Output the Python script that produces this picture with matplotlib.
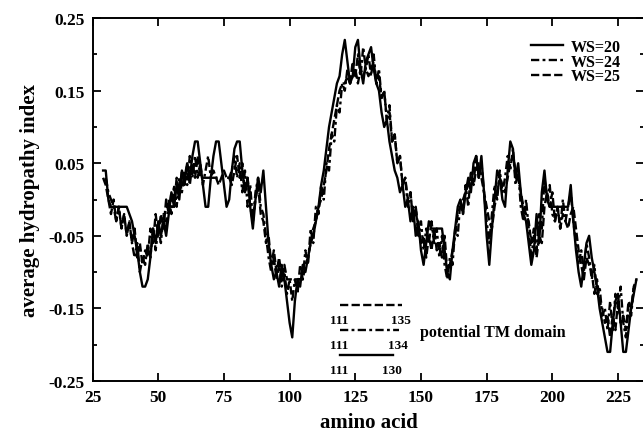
import numpy as np
import matplotlib
matplotlib.use('Agg')
import matplotlib.pyplot as plt

plt.rcParams['font.family'] = ['Liberation Serif', 'DejaVu Serif']
plt.rcParams['font.weight'] = 'bold'

# average hydropathy index (x 0.01), one value per residue
ws20_start = 29
ws20 = [4, 4, 0, -1, -1, -1, -1, -1, -1, -1, -2, -3,
        -5, -7, -10, -12, -12, -11, -8, -4, -6, -3,
        -5, -3, -5, -2, 1, -1, 2, 0, 4, 3,
        5, 3, 6, 8, 8, 5, 2, -1, -1, 3,
        6, 8, 8, 5, 2, -1, 0, 4, 7, 8,
        8, 4, 1, 3, -1, -4, 0, 3, 1, 4,
        -1, -6, -9, -11, -10, -12, -9, -11, -14, -17,
        -19, -14, -11, -12, -9, -10, -8, -6, -5, -3,
        -1, 2, 4, 7, 10, 12, 14, 16, 17, 20,
        22, 19, 16, 17, 21, 22, 18, 16, 19, 20,
        21, 18, 16, 15, 12, 10, 11, 8, 6, 4,
        3, 1, 2, -1, 0, -3, -1, -5, -3, -7,
        -9, -6, -3, -4, -4, -4, -4, -4, -7, -10,
        -11, -7, -4, -1, 0, -2, 1, 3, 1, 5,
        6, 3, 6, 1, -5, -9, -4, 0, 4, 3,
        0, -1, 4, 8, 7, 3, 5, 1, -2, -3,
        -6, -9, -7, -2, -6, 1, 4, 0, -1, -1,
        -1, -1, -1, -1, -1, -1, 2, -3, -7, -10,
        -12, -9, -6, -5, -8, -10, -12, -15, -17, -19,
        -21, -21, -17, -14, -13, -17, -21, -21, -18, -15, -13, -11]

ws24_start = 30
ws24 = [3, 1, 0, -1, -3, -1, -4, -2, -5, -3, -6,
        -8, -6, -10, -8, -9, -6, -8, -4, -7, -4,
        -6, -2, -4, 0, -2, 2, -1, 3, 1, 4,
        2, 6, 3, 6, 3, 5, 2, 4, 6, 3,
        3, 3, 3, 3, 3, 3, 3, 4, 6, 3,
        5, 1, 4, -1, 2, -3, 1, 3, -1, -2,
        -5, -8, -10, -8, -11, -9, -12, -10, -13, -11,
        -14, -11, -13, -9, -11, -7, -9, -4, -6, -1,
        -2, 2, 0, 5, 4, 9, 8, 13, 12, 16,
        15, 18, 16, 19, 17, 20, 17, 21, 18, 20,
        17, 20, 16, 18, 14, 15, 11, 13, 8, 9,
        5, 6, 2, 3, -1, 1, -3, -1, -5, -3,
        -7, -4, -6, -3, -6, -4, -8, -5, -9, -11,
        -8, -9, -4, -5, 0, -2, 2, -1, 4, 2,
        6, 3, 5, 1, -3, -6, -2, 2, 0, 4,
        1, 3, 6, 4, 7, 2, 4, -1, -3, 0,
        -4, -8, -5, -7, -2, -4, 3, 0, 2, -2,
        -3, -1, -4, 0, -3, -1, 1, -3, -6, -9,
        -7, -10, -6, -8, -11, -9, -13, -12, -16, -15,
        -18, -14, -18, -13, -15, -12, -17, -19, -15, -16, -12]

ws25_start = 29
ws25 = [3, 2, 0, -2, 0, -3, -1, -4, -2, -5, -3, -6,
        -4, -8, -6, -9, -7, -8, -4, -6, -2, -5,
        -2, -4, 0, -2, 1, -1, 3, 1, 4, 2,
        5, 2, 5, 3, 6, 3, 3, 3, 3, 3,
        4, 3, 2, 3, 4, 3, 3, 2, 4, 6,
        3, 5, 1, 3, -1, -3, 0, 2, -2, -3,
        -6, -5, -9, -7, -10, -8, -11, -9, -11, -11,
        -11, -11, -11, -11, -11, -9, -8, -6, -4, -3,
        -1, 0, 2, 4, 7, 9, 11, 13, 15, 16,
        16, 17, 16, 17, 18, 16, 18, 17, 18, 17,
        18, 19, 16, 17, 14, 15, 11, 12, 8, 9,
        5, 6, 2, 3, 0, 1, -3, -1, -4, -6,
        -5, -8, -5, -7, -4, -7, -6, -8, -5, -10,
        -9, -7, -5, -2, -1, 0, 1, 2, 3, 2,
        4, 5, 3, 1, -1, -3, -4, -1, 1, 3,
        2, 1, 3, 5, 6, 4, 3, 1, -1, -2,
        -3, -6, -4, -8, -5, -6, -1, 1, -1, 1,
        -3, -1, -4, -2, -3, -4, -2, -1, -4, -7,
        -9, -11, -8, -9, -10, -13, -11, -14, -15, -17,
        -16, -19, -16, -18, -14, -17, -16, -18, -14, -15, -12, -11]

x_ticks = [25, 50, 75, 100, 125, 150, 175, 200, 225]
y_ticks = [-0.25, -0.15, -0.05, 0.05, 0.15, 0.25]

# potential TM domain: (start, end, label start, label end)
tm_lines = [(119.2, 142.8, '111', '135'),
            (119.2, 141.7, '111', '134'),
            (119.2, 139.4, '111', '130')]
tm_y = [-0.1456, -0.180, -0.2147]

LW = 1.7
DASH = (3.5, 1.4)
DASHDOT = (3.5, 1.4, 1.2, 1.4)

fig = plt.figure(figsize=(6.43, 4.35), dpi=100)
ax = fig.add_axes([0.144, 0.122, 0.858, 0.834])

x20 = np.arange(ws20_start, ws20_start + len(ws20))
x24 = np.arange(ws24_start, ws24_start + len(ws24))
x25 = np.arange(ws25_start, ws25_start + len(ws25))

ax.plot(x20, np.array(ws20) / 100, color='black', lw=LW, label='WS=20')
ax.plot(x24, np.array(ws24) / 100, color='black', lw=LW, dashes=DASHDOT, label='WS=24')
ax.plot(x25, np.array(ws25) / 100, color='black', lw=LW, dashes=DASH, label='WS=25')

# TM domain sketch
styles = [dict(dashes=DASH), dict(dashes=DASHDOT), dict()]
for (x0, x1, l0, l1), yy, st in zip(tm_lines, tm_y, styles):
    ax.plot([x0, x1], [yy, yy], color='black', lw=LW, **st)
    ax.text(x0 - 0.4, yy - 0.02, l0, ha='center', va='center', fontsize=9.5, fontweight='bold')
    ax.text(x1 - 0.5, yy - 0.02, l1, ha='center', va='center', fontsize=9.5, fontweight='bold')
ax.text(149.7, -0.183, 'potential TM domain', ha='left', va='center',
        fontsize=11.5, fontweight='bold')

ax.set_xlim(25, 235)
ax.set_ylim(-0.25, 0.25)
ax.set_xticks(x_ticks)
ax.set_xticklabels([str(v) for v in x_ticks])
ax.set_yticks(y_ticks)
ax.set_yticklabels(['%.2f' % v for v in y_ticks])
ax.set_yticks([-0.2, -0.1, 0.0, 0.1, 0.2], minor=True)

ax.tick_params(which='both', direction='in', top=True, right=True, width=1.3,
               labelsize=12.5, pad=6)
ax.tick_params(which='major', length=6)
ax.tick_params(which='minor', length=3)
for s in ax.spines.values():
    s.set_linewidth(1.4)

ax.set_xlabel('amino acid', fontsize=15, fontweight='bold', labelpad=5)
ax.set_ylabel('average hydropathy index', fontsize=15, fontweight='bold', labelpad=6)

ax.legend(loc='upper left', bbox_to_anchor=(0.783, 0.96), frameon=False,
          fontsize=11.5, handlelength=2.0, handletextpad=0.5, labelspacing=-0.08,
          borderaxespad=0)

fig.savefig('out.png', dpi=100)
